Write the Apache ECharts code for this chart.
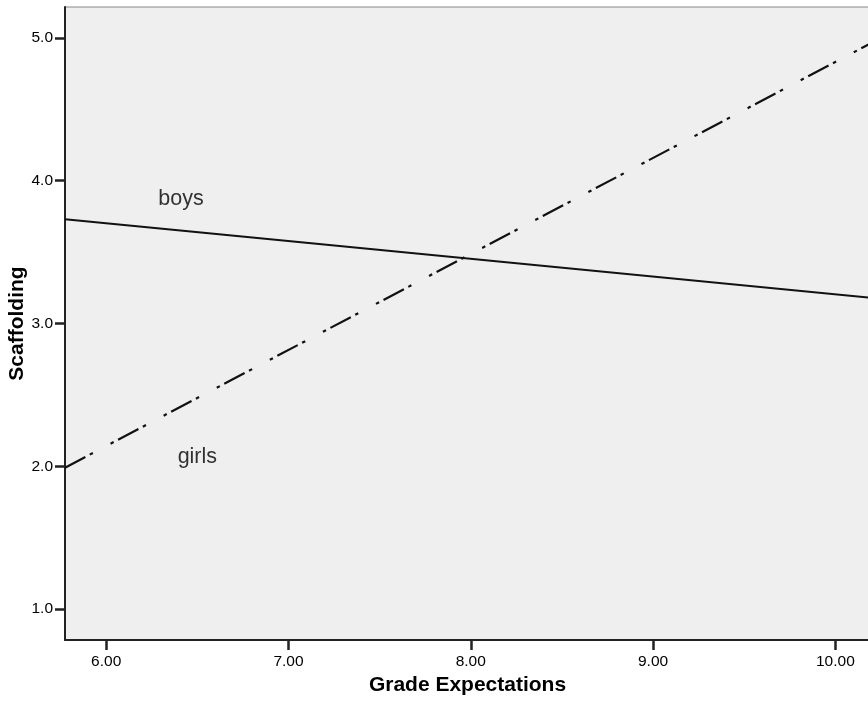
<!DOCTYPE html>
<html><head><meta charset="utf-8">
<script src="https://cdn.jsdelivr.net/npm/echarts@6/dist/echarts.min.js"></script>
<style>html,body{margin:0;padding:0;background:#fff}#c{width:868px;height:701px}</style>
</head><body><div id="c"></div>
<script>
const xTicks = [6, 7, 8, 9, 10];
const yTicks = [1, 2, 3, 4, 5];
const xRange = [5.774, 10.19];
const yRange = [0.783, 5.217];
const boysX = [5.774, 10.19];
const boysY = [3.73, 3.18];
const girlsX = [5.774, 10.19];
const girlsY = [1.99, 4.96];
const labelNames = ['boys', 'girls'];
const labelX = [6.41, 6.5];
const labelY = [3.873, 2.066];

const chart = echarts.init(document.getElementById('c'));
const font = 'Liberation Sans, Arial, sans-serif';
chart.setOption({
  animation: false,
  grid: {left: 65, right: -2, top: 7, bottom: 61, outerBoundsMode: 'none', containLabel: false, show: true, backgroundColor: '#efefef', borderColor: '#888', borderWidth: 1},
  xAxis: {
    type: 'value', min: xRange[0], max: xRange[1],
    name: 'Grade Expectations', nameLocation: 'middle', nameGap: 35, nameMoveOverlap: false,
    nameTextStyle: {fontFamily: font, fontWeight: 'bold', fontSize: 21, color: '#000'},
    axisLine: {lineStyle: {color: '#222', width: 2}},
    axisTick: {show: true, customValues: xTicks, length: 10, lineStyle: {color: '#222', width: 2.5}},
    axisLabel: {customValues: xTicks, formatter: v => v.toFixed(2), fontFamily: font, fontSize: 15.5, color: '#000', margin: 14},
    splitLine: {show: false}
  },
  yAxis: {
    type: 'value', min: yRange[0], max: yRange[1],
    name: 'Scaffolding', nameLocation: 'middle', nameGap: 37, nameRotate: 90, nameMoveOverlap: false,
    nameTextStyle: {fontFamily: font, fontWeight: 'bold', fontSize: 21, color: '#000'},
    axisLine: {show: true, lineStyle: {color: '#222', width: 2}},
    axisTick: {show: true, customValues: yTicks, length: 10, lineStyle: {color: '#222', width: 2.5}},
    axisLabel: {customValues: yTicks, formatter: v => v.toFixed(1), fontFamily: font, fontSize: 15.5, color: '#000', margin: 12},
    splitLine: {show: false}
  },
  series: [
    {type: 'line', data: boysX.map((x, i) => [x, boysY[i]]), symbol: 'none', lineStyle: {color: '#111', width: 2}},
    {type: 'line', data: girlsX.map((x, i) => [x, girlsY[i]]), symbol: 'none', lineStyle: {color: '#111', width: 2.2, type: [23, 5, 3.5, 20, 3.5, 5]}},
    {type: 'scatter', symbolSize: 0, data: labelNames.map((n, i) => ({value: [labelX[i], labelY[i]], name: n})),
     label: {show: true, position: 'inside', formatter: p => p.name, fontFamily: font, fontSize: 21.5, color: '#000'}}
  ]
});
</script></body></html>
